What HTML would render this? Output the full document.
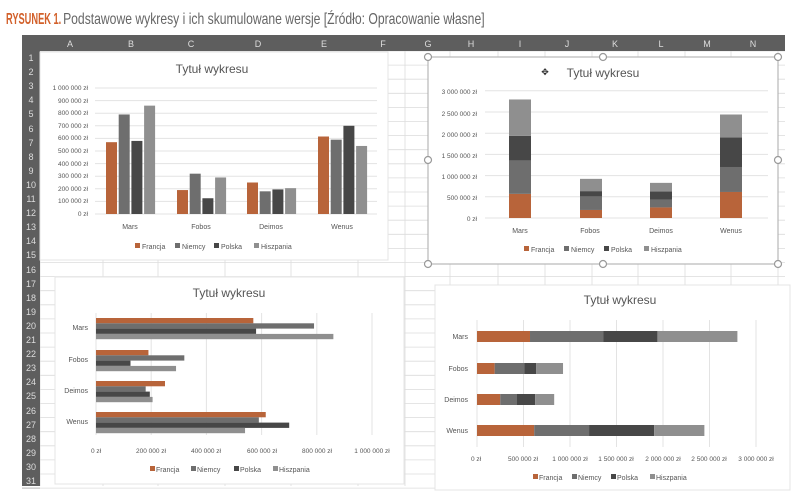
<!DOCTYPE html>
<html><head><meta charset="utf-8"><style>
html,body{margin:0;padding:0;background:#fff;}
svg{display:block;font-family:"Liberation Sans",sans-serif;}
</style></head><body>
<svg id="s" width="800" height="501" viewBox="0 0 800 501" xmlns="http://www.w3.org/2000/svg">
<rect width="800" height="501" fill="#fff"/>
<text x="10.3" y="24" font-size="16" fill="#d2602a" font-weight="bold" transform="scale(0.58,1)">RYSUNEK 1.</text>
<text x="83" y="24" font-size="16" fill="#666" transform="scale(0.76,1)">Podstawowe wykresy i ich skumulowane wersje [Źródło: Opracowanie własne]</text>
<g id="grid"></g>
<rect x="22" y="35" width="763" height="16" fill="#5e5e5e"/>
<rect x="22" y="35" width="18" height="451" fill="#5e5e5e"/>
<g font-size="9" fill="#ddd" text-anchor="middle">
<text x="70" y="47">A</text><text x="131" y="47">B</text><text x="191" y="47">C</text><text x="258" y="47">D</text><text x="324" y="47">E</text><text x="383" y="47">F</text><text x="428" y="47">G</text><text x="471" y="47">H</text><text x="520" y="47">I</text><text x="567" y="47">J</text><text x="615" y="47">K</text><text x="661" y="47">L</text><text x="707" y="47">M</text><text x="753" y="47">N</text>
</g>
<g id="rows" font-size="9" fill="#ddd" text-anchor="middle">
<text x="31" y="61">1</text><text x="31" y="75">2</text><text x="31" y="89">3</text><text x="31" y="103">4</text><text x="31" y="117">5</text><text x="31" y="132">6</text><text x="31" y="146">7</text><text x="31" y="160">8</text><text x="31" y="174">9</text><text x="31" y="188">10</text><text x="31" y="202">11</text><text x="31" y="216">12</text><text x="31" y="230">13</text><text x="31" y="244">14</text><text x="31" y="258">15</text><text x="31" y="273">16</text><text x="31" y="287">17</text><text x="31" y="301">18</text><text x="31" y="315">19</text><text x="31" y="329">20</text><text x="31" y="343">21</text><text x="31" y="357">22</text><text x="31" y="371">23</text><text x="31" y="385">24</text><text x="31" y="399">25</text><text x="31" y="414">26</text><text x="31" y="428">27</text><text x="31" y="442">28</text><text x="31" y="456">29</text><text x="31" y="470">30</text><text x="31" y="484">31</text>
</g>
<rect x="40" y="52" width="348" height="208" fill="#fff" stroke="#e4e4e4"/>
<rect x="428" y="57" width="350" height="207" fill="#fff" stroke="#aaa"/>
<rect x="55" y="277" width="349" height="207" fill="#fff" stroke="#e4e4e4"/>
<rect x="435" y="285" width="355" height="205" fill="#fff" stroke="#e4e4e4"/>
<g id="c" ></g>
<g fill="#fff" stroke="#999" stroke-width="1.2">
<circle cx="428" cy="57" r="3.5"/><circle cx="603" cy="57" r="3.5"/><circle cx="778" cy="57" r="3.5"/>
<circle cx="428" cy="160" r="3.5"/><circle cx="778" cy="160" r="3.5"/>
<circle cx="428" cy="264" r="3.5"/><circle cx="603" cy="264" r="3.5"/><circle cx="778" cy="264" r="3.5"/>
</g>
<g fill="#555">
<text x="212" y="73" font-size="12" text-anchor="middle">Tytuł wykresu</text>
<g font-size="6.5" text-anchor="end">
<text x="88" y="90">1 000 000 zł</text><text x="88" y="103">900 000 zł</text><text x="88" y="115">800 000 zł</text><text x="88" y="128">700 000 zł</text><text x="88" y="140">600 000 zł</text><text x="88" y="153">500 000 zł</text><text x="88" y="166">400 000 zł</text><text x="88" y="178">300 000 zł</text><text x="88" y="191">200 000 zł</text><text x="88" y="203">100 000 zł</text><text x="88" y="216">0 zł</text>
</g>
<g font-size="7" text-anchor="middle"><text x="130" y="229">Mars</text><text x="201" y="229">Fobos</text><text x="271" y="229">Deimos</text><text x="342" y="229">Wenus</text></g>
<g font-size="7"><text x="142" y="249">Francja</text><text x="182" y="249">Niemcy</text><text x="221" y="249">Polska</text><text x="261" y="249">Hiszpania</text></g>
</g>
<g><rect x="135" y="243" width="5" height="5" fill="#b8643a"/><rect x="175" y="243" width="5" height="5" fill="#6e6e6e"/><rect x="214" y="243" width="5" height="5" fill="#474747"/><rect x="254" y="243" width="5" height="5" fill="#8f8f8f"/></g>
<g fill="#555">
<text x="545" y="75" font-size="9" text-anchor="middle" fill="#222">✥</text>
<text x="603" y="77" font-size="12" text-anchor="middle">Tytuł wykresu</text>
<g font-size="6.5" text-anchor="end">
<text x="477" y="94">3 000 000 zł</text><text x="477" y="116">2 500 000 zł</text><text x="477" y="137">2 000 000 zł</text><text x="477" y="158">1 500 000 zł</text><text x="477" y="179">1 000 000 zł</text><text x="477" y="200">500 000 zł</text><text x="477" y="221">0 zł</text>
</g>
<g font-size="7" text-anchor="middle"><text x="520" y="233">Mars</text><text x="590" y="233">Fobos</text><text x="661" y="233">Deimos</text><text x="731" y="233">Wenus</text></g>
<g font-size="7"><text x="531" y="252">Francja</text><text x="571" y="252">Niemcy</text><text x="611" y="252">Polska</text><text x="651" y="252">Hiszpania</text></g>
</g>
<g><rect x="524" y="246" width="5" height="5" fill="#b8643a"/><rect x="564" y="246" width="5" height="5" fill="#6e6e6e"/><rect x="604" y="246" width="5" height="5" fill="#474747"/><rect x="644" y="246" width="5" height="5" fill="#8f8f8f"/></g>
<g fill="#555">
<text x="229" y="297" font-size="12" text-anchor="middle">Tytuł wykresu</text>
<g font-size="7" text-anchor="end"><text x="88" y="330">Mars</text><text x="88" y="362">Fobos</text><text x="88" y="393">Deimos</text><text x="88" y="424">Wenus</text></g>
<g font-size="6.5" text-anchor="middle"><text x="96" y="453">0 zł</text><text x="151" y="453">200 000 zł</text><text x="206" y="453">400 000 zł</text><text x="262" y="453">600 000 zł</text><text x="317" y="453">800 000 zł</text><text x="372" y="453">1 000 000 zł</text></g>
<g font-size="7"><text x="156" y="472">Francja</text><text x="197" y="472">Niemcy</text><text x="240" y="472">Polska</text><text x="279" y="472">Hiszpania</text></g>
</g>
<g><rect x="150" y="466" width="5" height="5" fill="#b8643a"/><rect x="191" y="466" width="5" height="5" fill="#6e6e6e"/><rect x="234" y="466" width="5" height="5" fill="#474747"/><rect x="273" y="466" width="5" height="5" fill="#8f8f8f"/></g>
<g fill="#555">
<text x="620" y="304" font-size="12" text-anchor="middle">Tytuł wykresu</text>
<g font-size="7" text-anchor="end"><text x="468" y="339">Mars</text><text x="468" y="371">Fobos</text><text x="468" y="402">Deimos</text><text x="468" y="433">Wenus</text></g>
<g font-size="6.5" text-anchor="middle"><text x="476" y="461">0 zł</text><text x="523" y="461">500 000 zł</text><text x="570" y="461">1 000 000 zł</text><text x="616" y="461">1 500 000 zł</text><text x="663" y="461">2 000 000 zł</text><text x="709" y="461">2 500 000 zł</text><text x="756" y="461">3 000 000 zł</text></g>
<g font-size="7"><text x="539" y="480">Francja</text><text x="578" y="480">Niemcy</text><text x="617" y="480">Polska</text><text x="656" y="480">Hiszpania</text></g>
</g>
<g><rect x="533" y="474" width="5" height="5" fill="#b8643a"/><rect x="572" y="474" width="5" height="5" fill="#6e6e6e"/><rect x="611" y="474" width="5" height="5" fill="#474747"/><rect x="650" y="474" width="5" height="5" fill="#8f8f8f"/></g>
</svg>
<script>
(function(){
var NS="http://www.w3.org/2000/svg";
function el(p,t,a){var e=document.createElementNS(NS,t);for(var k in a)e.setAttribute(k,a[k]);p.appendChild(e);return e;}
var g=document.getElementById('grid');
var cols=[40,103,158,225,291,358,405,450,498,545,592,638,685,731,778];
for(var i=0;i<=31;i++){var y=51+i*14.1;el(g,'line',{x1:40,x2:785,y1:y,y2:y,stroke:'#dcdcdc','stroke-width':0.8});
 el(g,'line',{x1:22,x2:40,y1:y,y2:y,stroke:'#888','stroke-width':0.6});}
cols.forEach(function(x){el(g,'line',{x1:x,x2:x,y1:51,y2:486,stroke:'#dcdcdc','stroke-width':0.8});});
var c=document.getElementById('c');
var C=['#b8643a','#6e6e6e','#474747','#8f8f8f'];
var D=[[570,790,580,860],[190,320,125,290],[250,180,195,205],[615,590,700,540]];
for(var i=0;i<=10;i++){var y=214-i*12.6;el(c,'line',{x1:95,x2:377,y1:y,y2:y,stroke:'#e3e3e3'});}
var gx=[106,177,247,318];
D.forEach(function(d,j){d.forEach(function(v,k){var h=v*0.126;el(c,'rect',{x:gx[j]+k*12.7,y:214-h,width:11,height:h,fill:C[k]});});});
for(var i=0;i<=6;i++){var y=218-i*21.2;el(c,'line',{x1:485,x2:768,y1:y,y2:y,stroke:'#e3e3e3'});}
var gx2=[509,580,650,720];
D.forEach(function(d,j){var b=218;d.forEach(function(v,k){var h=v*0.04233;el(c,'rect',{x:gx2[j],y:b-h,width:22,height:h,fill:C[k]});b-=h;});});
for(var i=0;i<=5;i++){var x=96+i*55.2;el(c,'line',{x1:x,x2:x,y1:313,y2:435,stroke:'#e3e3e3'});}
var gy=[318,350,381,412];
D.forEach(function(d,j){d.forEach(function(v,k){el(c,'rect',{x:96,y:gy[j]+k*5.3,width:v*0.276,height:5.3,fill:C[k]});});});
for(var i=0;i<=6;i++){var x=477+i*46.5;el(c,'line',{x1:x,x2:x,y1:320,y2:447,stroke:'#e3e3e3'});}
var gy4=[331,363,394,425];
D.forEach(function(d,j){var b=477;d.forEach(function(v,k){var w=v*0.093;el(c,'rect',{x:b,y:gy4[j],width:w,height:11,fill:C[k]});b+=w;});});
})();
</script>
</body></html>
